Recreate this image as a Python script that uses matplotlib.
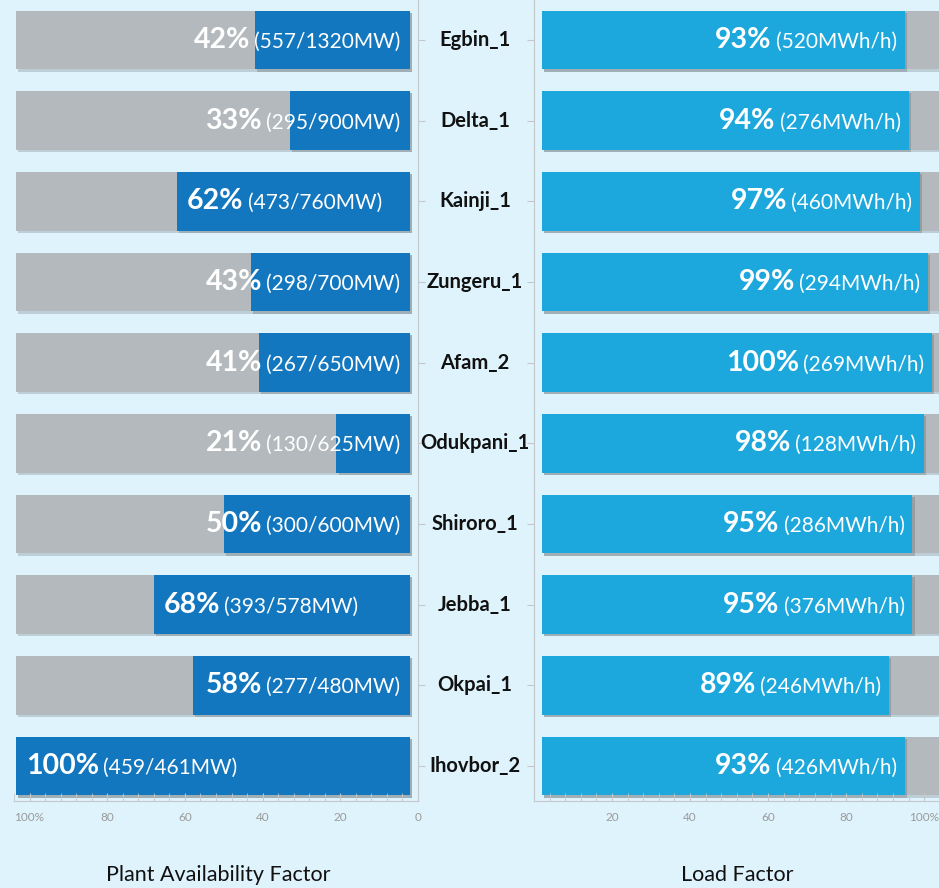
import numpy as np
from matplotlib import pyplot as plt
from matplotlib import patheffects as pe
from matplotlib.offsetbox import TextArea, HPacker, AnnotationBbox
from matplotlib.ticker import MultipleLocator

plants = ["Egbin_1", "Delta_1", "Kainji_1", "Zungeru_1", "Afam_2",
          "Odukpani_1", "Shiroro_1", "Jebba_1", "Okpai_1", "Ihovbor_2"]
avail_pct = np.array([42, 33, 62, 43, 41, 21, 50, 68, 58, 100])
avail_mw = [557, 295, 473, 298, 267, 130, 300, 393, 277, 459]
capacity_mw = [1320, 900, 760, 700, 650, 625, 600, 578, 480, 461]
load_pct = np.array([93, 94, 97, 99, 100, 98, 95, 95, 89, 93])
load_mwh = [520, 276, 460, 294, 269, 128, 286, 376, 246, 426]

BG = "#dff3fc"
GREY = "#b3b9bc"
DARK_BLUE = "#1277be"
LIGHT_BLUE = "#1ca8dc"
SPINE = "#c4c8ca"
TICK_TXT = "#9a9a9a"

plt.rcParams['font.family'] = ['Lato', 'DejaVu Sans']

W, H = 939, 888
fig = plt.figure(figsize=(W / 100, H / 100), dpi=100, facecolor=BG)

def px_axes(x0, x1, top, bottom):
    return fig.add_axes([x0 / W, 1 - bottom / H, (x1 - x0) / W, (bottom - top) / H])

axL = px_axes(14, 418, 0, 801)
axR = px_axes(534, 939, 0, 801)

y = np.arange(len(plants))
bar_h = 0.73
shadow = [pe.SimplePatchShadow(offset=(1.5, -1.5), shadow_rgbFace='k', alpha=0.15), pe.Normal()]

# left panel: availability (axis reversed, 0 on the right)
full_end = 103.5
axL.barh(y, full_end - 2, left=2, height=bar_h, color=GREY, path_effects=shadow)
blue_end = np.where(avail_pct >= 100, full_end, avail_pct)
axL.barh(y, blue_end - 2, left=2, height=bar_h, color=DARK_BLUE, path_effects=shadow)
axL.set_xlim(104, 0)

# right panel: load factor
axR.barh(y, 110, left=2, height=bar_h, color=GREY, path_effects=shadow)
axR.barh(y, load_pct, left=2, height=bar_h, color=LIGHT_BLUE, path_effects=shadow)
axR.set_xlim(0, 103.8)

for ax in (axL, axR):
    ax.set_facecolor(BG)
    ax.set_ylim(9.434, -0.496)
    ax.spines['top'].set_visible(False)
    ax.spines['bottom'].set_color(SPINE)
    ax.xaxis.set_minor_locator(MultipleLocator(4))
    ax.tick_params(axis='x', which='both', direction='in', colors=SPINE,
                   labelcolor=TICK_TXT, labelsize=8.5, length=6, pad=8)
    ax.set_yticks(y)
    ax.set_yticklabels([])

axL.spines['left'].set_visible(False)
axL.spines['right'].set_color(SPINE)
axL.yaxis.tick_right()
axL.tick_params(axis='y', direction='out', colors=SPINE, length=5)
axL.set_xticks([0, 20, 40, 60, 80, 100])
axL.set_xticklabels(["0", "20", "40", "60", "80", "100%"])

axR.spines['right'].set_visible(False)
axR.spines['left'].set_color(SPINE)
axR.tick_params(axis='y', direction='out', colors=SPINE, length=5)
axR.set_xticks([20, 40, 60, 80, 100])
axR.set_xticklabels(["20", "40", "60", "80", "100%"])


def bar_label(ax, x, yy, big, small, align):
    box = HPacker(children=[
        TextArea(big, textprops=dict(color='white', fontsize=20.5, fontweight='bold')),
        TextArea(small, textprops=dict(color='white', fontsize=15))],
        sep=3, align='baseline', pad=0)
    ab = AnnotationBbox(box, (x, yy), xycoords='data', frameon=False, pad=0,
                        box_alignment=(align, 0.5), annotation_clip=False)
    ax.add_artist(ab)


for i in range(len(plants)):
    small = "(%d/%dMW)" % (avail_mw[i], capacity_mw[i])
    if avail_pct[i] > 60:
        bar_label(axL, blue_end[i] - 2.5, y[i], "%d%%" % avail_pct[i], small, 0)
    else:
        bar_label(axL, 4.5, y[i], "%d%%" % avail_pct[i], small, 1)
    bar_label(axR, load_pct[i], y[i], "%d%%" % load_pct[i],
              "(%dMWh/h)" % load_mwh[i], 1)
    fig.text(475 / W, 1 - (40 + 80.67 * i) / H, plants[i], ha='center', va='center',
             fontsize=14.5, fontweight='bold', color='#111111')

fig.text(218 / W, 1 - 875 / H, "Plant Availability Factor", ha='center', va='center',
         fontsize=15.5, color='#111111')
fig.text(737 / W, 1 - 875 / H, "Load Factor", ha='center', va='center',
         fontsize=15.5, color='#111111')

fig.savefig("out.png", dpi=100, facecolor=BG)
